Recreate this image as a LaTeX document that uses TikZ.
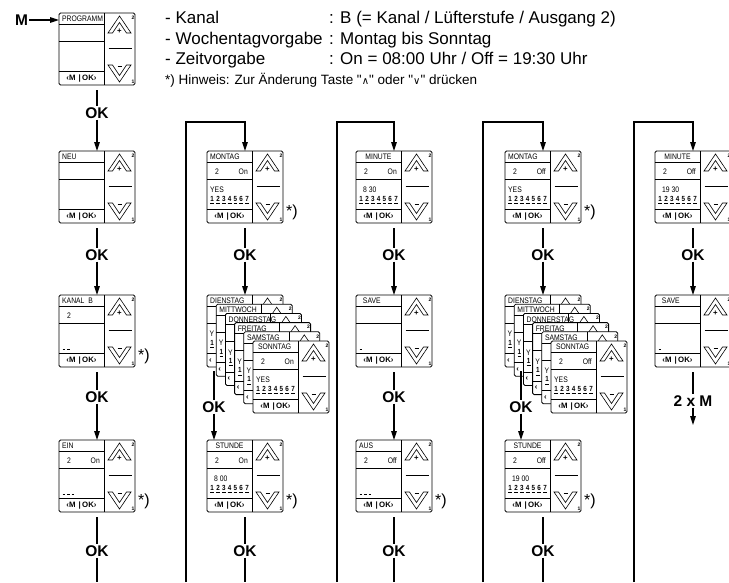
\documentclass[tikz,border=0pt]{standalone}
\usepackage{fontspec}
\setmainfont{Liberation Sans}[Ligatures=TeXOff]
\newfontfamily\lcd{Liberation Sans}[FakeStretch=0.85]
\newfontfamily\djv{DejaVu Sans}
\usetikzlibrary{arrows.meta}
\tikzset{
 conn/.style={line width=1.2pt},
 arr/.style={conn,-{Triangle[length=9pt,width=5.5pt]}},
 devframe/.style={draw,line width=0.8pt,fill=white,rounded corners=1.5pt,minimum width=76pt,minimum height=72pt,inner sep=0pt,outer sep=0pt},
 pl/.style={line width=0.6pt},
 lcdt/.style={font=\lcd\fontsize{8}{9}\selectfont,inner sep=0pt},
 dig/.style={font=\lcd\bfseries\fontsize{7.4}{8}\selectfont,inner sep=0pt},
 strip/.style={font=\bfseries\fontsize{7.8}{8}\selectfont,inner sep=0pt},
 supn/.style={font=\bfseries\fontsize{5}{6}\selectfont,inner sep=0pt},
 okl/.style={font=\bfseries\fontsize{15.5}{17}\selectfont,inner sep=1pt},
 hdr/.style={font=\fontsize{17}{19}\selectfont,inner sep=0pt,anchor=base west},
 notet/.style={font=\fontsize{13.5}{15}\selectfont,inner sep=0pt,anchor=base west},
 astx/.style={font=\fontsize{16}{18}\selectfont,inner sep=0pt,anchor=west},
}
\newcommand\devlines{%
 \draw[pl] (45,0) -- (45,72);
 \draw[pl] (0,11) -- (45,11) (0,28) -- (45,28) (0,58.5) -- (45,58.5);
 \draw[pl,line join=miter] (49,20) -- (60.5,3) -- (72,20) -- (67.5,20) -- (60.5,9.5) -- (53.5,20) -- cycle;
 \draw[pl] (49.5,35.5) -- (72.5,35.5);
 \draw[pl,line join=miter] (49,52) -- (60.5,69) -- (72,52) -- (67.5,52) -- (60.5,62.5) -- (53.5,52) -- cycle;
 \node[supn] at (74,4.5) {2};
}
\newcommand\devinner{%
 \devlines
 \node[strip] at (22.5,65.5) {‹M\hspace{3pt}|\hspace{1.5pt}OK›};
 \node[strip] at (60.5,18.2) {+};
 \draw[line width=0.9pt] (58.5,53.8) -- (62.5,53.8);
 \node[supn] at (74,68.5) {1};
}
\newcommand\dev[4]{%
 \node[devframe,anchor=north west] (#1) at (#2,#3) {};
 \begin{scope}[shift={(#2,#3)}]\devinner #4\end{scope}}
\newcommand\ttl[1]{\node[lcdt,anchor=west] at (3,6) {#1};}
\newcommand\ttlc[1]{\node[lcdt] at (22.5,6) {#1};}
\newcommand\rowtwo[1]{\node[lcdt,anchor=west] at (8,21) {2};\node[lcdt,anchor=east] at (41,21) {#1};}
\newcommand\yesl{\node[lcdt,anchor=west] at (3,39) {YES};}
\newcommand\timel[1]{\node[lcdt,anchor=west] at (7,39) {#1};}
\newcommand\digs{\foreach \i in {1,...,7}{\node[dig] at ({-0.6+5.8*\i},47.5) {\i};\draw[pl] ({-2.5+5.8*\i},52.3) -- ({1.3+5.8*\i},52.3);}}
\newcommand\dsh[1]{\foreach \i in {1,...,#1}{\draw[line width=0.8pt] ({-1+4.5*\i},54) -- ({1.8+4.5*\i},54);}}
% a card of the stack that is mostly hidden by the next one
\newcommand\backcard[4]{%
 \node[devframe,anchor=north west] (#1) at (#2,#3) {};
 \begin{scope}[shift={(#2,#3)}]\devlines
  \ttl{#4}
  \node[lcdt,anchor=west] at (2.5,39) {Y};
  \node[dig] at (5.2,47.5) {1};\draw[pl] (3.3,52.3) -- (7.1,52.3);
  \node[strip,anchor=west] at (2,65.5) {‹};
 \end{scope}}
\newcommand\stackcard[5]{\dev{#1}{#2}{#3}{\ttl{#4}\rowtwo{#5}\yesl\digs}}
\begin{document}
\begin{tikzpicture}[x=1pt,y=-1pt]
\useasboundingbox (0,0) rectangle (729,582);
% header
\node[hdr] (h1) at (165,23) {- Kanal};
\node[hdr] (h1b) at (329,23) {: B (= Kanal / Lüfterstufe / Ausgang 2)};
\node[hdr] (h2) at (165,44) {- Wochentagvorgabe};
\node[hdr] (h2b) at (329,44) {: Montag bis Sonntag};
\node[hdr] (h3) at (165,64) {- Zeitvorgabe};
\node[hdr] (h3b) at (329,64) {: On = 08:00 Uhr / Off = 19:30 Uhr};
\node[notet] (h4) at (165,84) {*) Hinweis: Zur Änderung Taste "{\djv\fontsize{10}{12}\selectfont ∧}" oder "{\djv\fontsize{10}{12}\selectfont ∨}" drücken};
% column 1
\node[okl] (m) at (21.5,20) {M};
\dev{d1}{59}{13}{\ttl{PROGRAMM}}
\dev{d2}{59}{151}{\ttl{NEU}}
\dev{d3}{59}{295}{\ttl{KANAL\ \ B}\node[lcdt,anchor=west] at (8,21){2};\dsh{2}}
\dev{d4}{59}{440}{\ttl{EIN}\rowtwo{On}\dsh{3}}
\node[astx] (a3) at (138,356) {*)};
\node[astx] (a4) at (138,501) {*)};
\node[okl] (ok1) at (97,113) {OK};
\node[okl] (ok2) at (97,255) {OK};
\node[okl] (ok3) at (97,397) {OK};
\node[okl] (ok4) at (97,551) {OK};
\coordinate (e1) at (97,582);
\draw[arr] (m.east) -- (d1.west |- m.east);
\draw[conn,shorten <=5pt] (d1.south) -- (ok1.north);
\draw[arr] (ok1.south) -- (d2.north);
\draw[conn,shorten <=5pt] (d2.south) -- (ok2.north);
\draw[arr] (ok2.south) -- (d3.north);
\draw[conn,shorten <=5pt] (d3.south) -- (ok3.north);
\draw[arr] (ok3.south) -- (d4.north);
\draw[conn,shorten <=5pt] (d4.south) -- (ok4.north);
\draw[conn] (ok4.south) -- (e1);
% column 2
\dev{d5}{207}{151}{\ttl{MONTAG}\rowtwo{On}\yesl\digs}
\node[astx] (a5) at (286,212) {*)};
\backcard{k21}{207}{295}{DIENSTAG}
\backcard{k22}{216.2}{304.2}{MITTWOCH}
\backcard{k23}{225.4}{313.4}{DONNERSTAG}
\backcard{k24}{234.6}{322.6}{FREITAG}
\backcard{k25}{243.8}{331.8}{SAMSTAG}
\stackcard{k26}{253}{341}{\ SONNTAG}{On}
\dev{d7}{207}{440}{\ttlc{STUNDE}\rowtwo{On}\timel{8 00}\digs}
\node[astx] (a7) at (286,501) {*)};
\node[okl] (ok5) at (245,255) {OK};
\node[okl] (ok6) at (214,407) {OK};
\node[okl] (ok7) at (245,551) {OK};
\coordinate (s2) at (186,582);
\coordinate (c2) at (186,122);
\coordinate (e2) at (245,582);
\draw[arr] (s2) -- (c2) -| (d5.north);
\draw[conn,shorten <=5pt] (d5.south) -- (ok5.north);
\draw[arr] (ok5.south) -- (k21.north);
\draw[conn,shorten <=4pt] (k21.south -| ok6) -- (ok6.north);
\draw[arr] (ok6.south) -- (ok6.south |- d7.north);
\draw[conn,shorten <=5pt] (d7.south) -- (ok7.north);
\draw[conn] (ok7.south) -- (e2);
% column 3
\dev{d8}{356}{151}{\ttlc{MINUTE}\rowtwo{On}\timel{8 30}\digs}
\dev{d9}{356}{295}{\ttl{\ \ SAVE}\dsh{1}}
\dev{d10}{356}{440}{\ttl{AUS}\rowtwo{Off}\dsh{3}}
\node[astx] (a10) at (435,501) {*)};
\node[okl] (ok8) at (394,255) {OK};
\node[okl] (ok9) at (394,397) {OK};
\node[okl] (ok10) at (394,551) {OK};
\coordinate (s3) at (337,582);
\coordinate (c3) at (337,122);
\coordinate (e3) at (394,582);
\draw[arr] (s3) -- (c3) -| (d8.north);
\draw[conn,shorten <=5pt] (d8.south) -- (ok8.north);
\draw[arr] (ok8.south) -- (d9.north);
\draw[conn,shorten <=5pt] (d9.south) -- (ok9.north);
\draw[arr] (ok9.south) -- (d10.north);
\draw[conn,shorten <=5pt] (d10.south) -- (ok10.north);
\draw[conn] (ok10.south) -- (e3);
% column 4
\dev{d11}{505}{151}{\ttl{MONTAG}\rowtwo{Off}\yesl\digs}
\node[astx] (a11) at (584,212) {*)};
\backcard{k41}{505}{295}{DIENSTAG}
\backcard{k42}{514.2}{304.2}{MITTWOCH}
\backcard{k43}{523.4}{313.4}{DONNERSTAG}
\backcard{k44}{532.6}{322.6}{FREITAG}
\backcard{k45}{541.8}{331.8}{SAMSTAG}
\stackcard{k46}{551}{341}{\ SONNTAG}{Off}
\dev{d13}{505}{440}{\ttlc{STUNDE}\rowtwo{Off}\timel{19 00}\digs}
\node[astx] (a13) at (584,501) {*)};
\node[okl] (ok11) at (543,255) {OK};
\node[okl] (ok12) at (521,407) {OK};
\node[okl] (ok13) at (543,551) {OK};
\coordinate (s4) at (483,582);
\coordinate (c4) at (483,122);
\coordinate (e4) at (543,582);
\draw[arr] (s4) -- (c4) -| (d11.north);
\draw[conn,shorten <=5pt] (d11.south) -- (ok11.north);
\draw[arr] (ok11.south) -- (k41.north);
\draw[conn,shorten <=4pt] (k41.south -| ok12) -- (ok12.north);
\draw[arr] (ok12.south) -- (ok12.south |- d13.north);
\draw[conn,shorten <=5pt] (d13.south) -- (ok13.north);
\draw[conn] (ok13.south) -- (e4);
% column 5
\dev{d14}{655}{151}{\ttlc{MINUTE}\rowtwo{Off}\timel{19 30}\digs}
\dev{d15}{655}{295}{\ttl{\ \ SAVE}\dsh{1}}
\node[okl] (ok14) at (693,255) {OK};
\node[okl] (m2) at (693,401) {2 x M};
\coordinate (s5) at (634,582);
\coordinate (c5) at (634,122);
\coordinate (e5) at (693,425);
\draw[arr] (s5) -- (c5) -| (d14.north);
\draw[conn,shorten <=5pt] (d14.south) -- (ok14.north);
\draw[arr] (ok14.south) -- (d15.north);
\draw[conn,shorten <=5pt] (d15.south) -- (m2.north);
\draw[arr] (m2.south) -- (e5);
\end{tikzpicture}
\end{document}
